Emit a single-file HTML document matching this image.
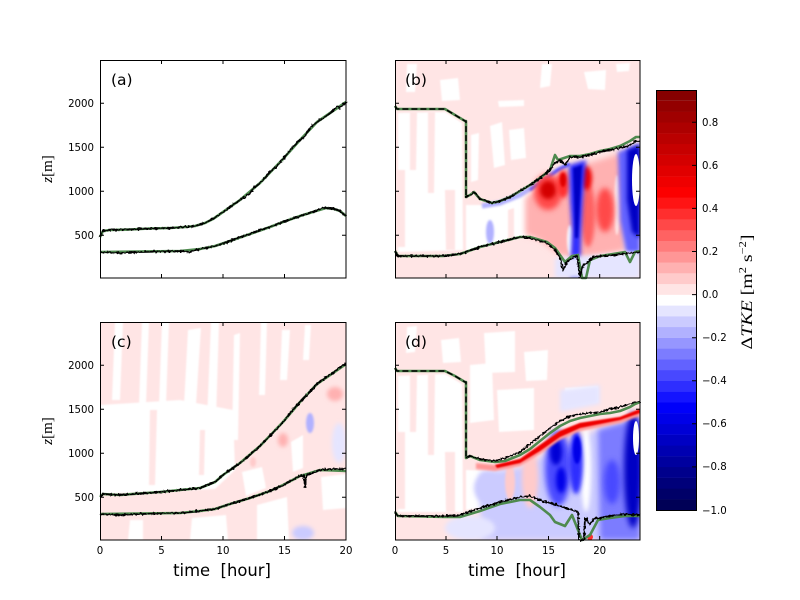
<!DOCTYPE html>
<html><head><meta charset="utf-8"><style>html,body{margin:0;padding:0;background:#fff}svg{display:block}</style></head><body>
<svg width="800" height="600" xmlns="http://www.w3.org/2000/svg" font-family="'DejaVu Sans','Liberation Sans',sans-serif">
<defs>
<clipPath id="cA"><rect x="100" y="60" width="246" height="218"/></clipPath>
<clipPath id="cB"><rect x="395" y="60" width="245" height="218"/></clipPath>
<clipPath id="cC"><rect x="100" y="322" width="246" height="218"/></clipPath>
<clipPath id="cD"><rect x="395" y="322" width="245" height="218"/></clipPath>
<filter id="b05" x="-20%" y="-20%" width="140%" height="140%"><feGaussianBlur stdDeviation="0.7"/></filter>
<filter id="b1" x="-50%" y="-50%" width="200%" height="200%"><feGaussianBlur stdDeviation="1"/></filter>
<filter id="b2" x="-50%" y="-50%" width="200%" height="200%"><feGaussianBlur stdDeviation="2"/></filter>
<filter id="b3" x="-50%" y="-50%" width="200%" height="200%"><feGaussianBlur stdDeviation="3"/></filter>
<filter id="jit" x="-5%" y="-10%" width="110%" height="120%"><feTurbulence type="fractalNoise" baseFrequency="0.45" numOctaves="1" seed="7" result="n"/><feDisplacementMap in="SourceGraphic" in2="n" scale="4" xChannelSelector="R" yChannelSelector="G"/></filter>
</defs>
<rect width="800" height="600" fill="#fff"/>

<!-- ===== Panel B field ===== -->
<g clip-path="url(#cB)">
<rect x="395" y="60" width="245" height="218" fill="#ffe5e5"/>
<g fill="#fff" filter="url(#b05)">
<path d="M398,113 L445,112 L462,123 L463,250 L398,252 Z"/>
<path d="M440,80 L458,78 L460,100 L442,101 Z"/>
<path d="M490,126 L502,122 L505,165 L494,168 Z"/>
<path d="M498,101 L524,100 L524,106 L499,107 Z"/>
<path d="M509,130 L524,128 L526,158 L511,160 Z"/>
<path d="M584,72 L606,70 L605,90 L588,89 Z"/>
<path d="M616,64 L630,63 L629,71 L617,72 Z"/>
<path d="M407,64 L417,64 L415,92 L406,92 Z"/>
<path d="M542,64 L552,64 L550,86 L540,88 Z"/>
<path d="M466,205 L500,205 L535,188 L536,238 L520,238 L500,243 L480,248 L466,252 Z"/>
<path d="M471,135 L479,133 L478,180 L471,182 Z"/>
</g>
<g fill="#ffe5e5" filter="url(#b05)">
<path d="M410,112 L417,112 L416,170 L410,170 Z"/>
<path d="M428,112 L435,112 L434,193 L428,193 Z"/>
<path d="M445,190 L455,190 L455,250 L446,250 Z"/>
<path d="M396,170 L405,170 L405,247 L396,247 Z"/>
<path d="M508,210 L514,208 L514,242 L508,244 Z"/>
</g>
<path d="M482,206 L500,203 L520,195 L540,183 L555,172 L568,165" stroke="#b1b1ff" stroke-width="5" fill="none" filter="url(#b1)"/>
<path d="M530,190 L545,180 L558,170 L570,164" stroke="#4848ff" stroke-width="3" fill="none" filter="url(#b1)"/>
<path d="M525,198 L545,182 L565,170 L600,160 L625,152 L625,250 L600,255 L580,258 L560,255 L540,240 L525,235 Z" fill="#ffb1b1" filter="url(#b3)"/>
<ellipse cx="490" cy="232" rx="4" ry="12" fill="#b1b1ff" filter="url(#b1)"/>
<ellipse cx="570" cy="240" rx="3" ry="15" fill="#fff" filter="url(#b1)"/>
<ellipse cx="617" cy="205" rx="3" ry="30" fill="#ffe5e5" filter="url(#b1)"/>
<ellipse cx="548" cy="192" rx="14" ry="18" fill="#ff4848" filter="url(#b3)"/>
<ellipse cx="548" cy="190" rx="8" ry="9" fill="#d40000" filter="url(#b2)"/>
<ellipse cx="563" cy="184" rx="6" ry="14" fill="#ff2e2e" filter="url(#b2)"/>
<ellipse cx="563" cy="180" rx="3" ry="7" fill="#e10000" filter="url(#b1)"/>
<ellipse cx="588" cy="215" rx="7" ry="32" fill="#ff6262" filter="url(#b2)"/>
<ellipse cx="586" cy="178" rx="6" ry="12" fill="#ef0000" filter="url(#b2)"/>
<ellipse cx="605" cy="210" rx="9" ry="22" fill="#ff4848" filter="url(#b3)"/>
<path d="M569,165 L586,160 L583,200 L581,240 L580,278 L570,278 L572,230 L570,200 Z" fill="#2e2eff" filter="url(#b2)"/>
<path d="M573,168 L582,165 L580,200 L578,238 L575,238 L574,200 Z" fill="#0000c4" filter="url(#b1)"/>
<path d="M618,152 L640,143 L640,255 L626,252 L620,220 Z" fill="#6262ff" filter="url(#b2)"/>
<path d="M627,150 L640,145 L640,238 L632,232 L627,200 Z" fill="#0000c4" filter="url(#b2)"/>
<ellipse cx="636" cy="180" rx="4" ry="26" fill="#fff"/>
<path d="M555,258 L640,252 L640,278 L555,278 Z" fill="#e5e5ff" filter="url(#b2)"/>
</g>

<!-- ===== Panel D field ===== -->
<g clip-path="url(#cD)">
<rect x="395" y="322" width="245" height="218" fill="#ffe5e5"/>
<g fill="#fff" filter="url(#b05)">
<path d="M398,376 L445,374 L462,384 L463,512 L398,512 Z"/>
<path d="M470,365 L492,363 L494,420 L470,423 Z"/>
<path d="M484,333 L515,331 L515,372 L486,373 Z"/>
<path d="M524,352 L548,350 L547,380 L526,381 Z"/>
<path d="M497,390 L534,388 L534,430 L499,432 Z"/>
<path d="M441,340 L459,338 L461,362 L443,363 Z"/>
<path d="M407,327 L417,326 L415,352 L406,353 Z"/>
<path d="M466,470 L515,472 L530,498 L466,510 Z"/>
<path d="M565,388 L598,386 L598,402 L565,408 Z"/>
</g>
<g fill="#ffe5e5" filter="url(#b05)">
<path d="M410,374 L417,374 L416,432 L410,432 Z"/>
<path d="M428,374 L435,374 L434,455 L428,455 Z"/>
<path d="M445,452 L455,452 L455,512 L446,512 Z"/>
<path d="M396,432 L405,432 L405,509 L396,509 Z"/>
</g>
<path d="M560,390 L600,385 L600,404 L560,412 Z" fill="#e5e5ff" filter="url(#b2)"/>
<path d="M480,472 L520,468 L545,455 L600,428 L640,418 L640,540 L480,540 Z" fill="#cbcbff" filter="url(#b3)"/>
<ellipse cx="488" cy="488" rx="14" ry="16" fill="#cbcbff" filter="url(#b2)"/>
<ellipse cx="470" cy="528" rx="25" ry="12" fill="#e5e5ff" filter="url(#b2)"/>
<ellipse cx="530" cy="478" rx="8" ry="30" fill="#ffcbcb" filter="url(#b2)"/>
<ellipse cx="510" cy="482" rx="5" ry="18" fill="#ffcbcb" filter="url(#b1)"/>
<ellipse cx="586" cy="470" rx="5" ry="42" fill="#fff" filter="url(#b2)"/>
<ellipse cx="558" cy="468" rx="13" ry="38" fill="#4848ff" filter="url(#b3)"/>
<ellipse cx="556" cy="452" rx="6" ry="13" fill="#0000d6" filter="url(#b2)"/>
<ellipse cx="561" cy="480" rx="5" ry="13" fill="#0000e8" filter="url(#b2)"/>
<ellipse cx="576" cy="462" rx="7" ry="32" fill="#2e2eff" filter="url(#b2)"/>
<ellipse cx="577" cy="450" rx="4" ry="14" fill="#0000e8" filter="url(#b1)"/>
<path d="M598,430 L640,418 L640,540 L600,540 Z" fill="#7c7cff" filter="url(#b3)"/>
<ellipse cx="612" cy="482" rx="8" ry="22" fill="#4848ff" filter="url(#b3)"/>
<ellipse cx="633" cy="470" rx="9" ry="58" fill="#0000c4" filter="url(#b3)"/>
<ellipse cx="636" cy="438" rx="3" ry="17" fill="#fff"/>
<ellipse cx="590" cy="537" rx="3" ry="3" fill="#ff2e2e"/>
<path d="M476,463 L495,465 L520,459 L540,445 L560,431 L580,423 L600,420 L620,417 L635,411 L640,409 L640,416 L620,423 L600,427 L580,431 L560,440 L540,454 L520,466 L495,471 L476,469 Z" fill="#ff9696" filter="url(#b1)"/>
<path d="M495,465 L520,459 L540,445 L560,431 L580,423 L600,420 L620,417 L635,411 L640,409 L640,413 L620,420 L600,424 L580,428 L560,437 L540,451 L520,463 L497,468 Z" fill="#ef0000" filter="url(#b05)"/>
</g>

<!-- ===== Panel C field ===== -->
<g clip-path="url(#cC)">
<rect x="100" y="322" width="246" height="218" fill="#ffe5e5"/>
<g fill="#fff" filter="url(#b05)">
<path d="M100,405 L180,400 L233,410 L235,470 L215,489 L100,494 Z"/>
<path d="M142,322 L149,322 L146,405 L139,405 Z"/>
<path d="M162,322 L169,322 L166,405 L159,405 Z"/>
<path d="M188,330 L201,328 L196,405 L184,405 Z"/>
<path d="M211,322 L219,322 L216,420 L207,420 Z"/>
<path d="M234,335 L240,333 L238,440 L232,440 Z"/>
<path d="M261,322 L267,322 L265,395 L259,395 Z"/>
<path d="M115,322 L123,322 L120,400 L112,400 Z"/>
<path d="M282,330 L290,330 L287,380 L280,380 Z"/>
<path d="M305,325 L311,325 L309,360 L303,360 Z"/>
<path d="M242,472 L262,467 L266,488 L246,496 Z"/>
<path d="M291,442 L303,435 L303,468 L293,472 Z"/>
<path d="M130,520 L143,520 L143,540 L128,540 Z"/>
<path d="M192,518 L226,515 L228,540 L190,540 Z"/>
<path d="M257,505 L287,497 L289,540 L257,540 Z"/>
<path d="M321,477 L346,474 L346,508 L323,510 Z"/>
</g>
<g fill="#ffe5e5" filter="url(#b05)">
<path d="M150,410 L157,410 L155,485 L149,485 Z"/>
<path d="M200,430 L205,430 L204,475 L199,475 Z"/>
</g>
<ellipse cx="335" cy="394" rx="8" ry="7" fill="#ffb1b1" filter="url(#b2)"/>
<ellipse cx="283" cy="440" rx="5" ry="7" fill="#ffb1b1" filter="url(#b2)"/>
<ellipse cx="253" cy="462" rx="3" ry="5" fill="#ffcbcb" filter="url(#b1)"/>
<ellipse cx="310" cy="423" rx="4" ry="10" fill="#b1b1ff" filter="url(#b1)"/>
<ellipse cx="303" cy="533" rx="11" ry="7" fill="#cbcbff" filter="url(#b2)"/>
<ellipse cx="339" cy="443" rx="7" ry="20" fill="#e5e5ff" filter="url(#b2)"/>
</g>

<!-- ===== Lines ===== -->
<g fill="none" stroke-linejoin="round">
<!-- A -->
<polyline stroke="#4f8a4f" stroke-width="2.6" points="100,237 103,231 110,230 130,229.5 150,228.5 170,228 185,227 195,226 205,223 213,219 223,212 240,200 260,183 283,159 300,140 317,122 333,111 346,102"/>
<polyline stroke="#000" stroke-width="1.8" filter="url(#jit)" points="100,237 103,231 110,230 130,229.5 150,228.5 170,228 185,227 195,226 205,223 213,219 223,212 240,200 245,197 250,193 255,187 260,183 270,172 275,168 283,159 290,150 300,140 305,136 310,128 317,122 325,117 333,111 337,106 340,108 346,102"/>
<polyline stroke="#4f8a4f" stroke-width="2.6" points="100,252 180,251 200,249 215,246 230,241 250,234 270,227 283,222 300,216 316,211 326,208 334,209 340,211 346,216"/>
<polyline stroke="#000" stroke-width="1.8" filter="url(#jit)" points="100,252 120,253 140,252 180,251 190,252 200,249 215,246 225,243 230,241 240,237 250,234 260,230 270,227 283,222 300,216 316,211 322,208 326,208 334,209 340,211 346,216"/>
<!-- C -->
<polyline stroke="#4f8a4f" stroke-width="2.6" points="100,497 103,494 120,495 160,492 200,488 215,482 223,475 240,463 260,446 283,422 300,402 317,384 333,373 346,364"/>
<polyline stroke="#000" stroke-width="1.8" filter="url(#jit)" points="100,497 103,494 120,495 160,492 200,488 215,482 223,475 240,463 250,455 260,446 270,436 283,422 290,413 300,402 310,392 317,384 325,378 333,373 340,367 346,364"/>
<polyline stroke="#4f8a4f" stroke-width="2.6" points="100,514 180,513 200,511 215,509 230,504 250,498 270,491 283,485 300,476 304,475 320,470 346,471"/>
<polyline stroke="#000" stroke-width="1.8" filter="url(#jit)" points="100,514 120,515 140,514 180,513 200,511 215,509 230,504 250,498 270,491 283,485 300,476 304,475 305,487 307,475 320,470 330,469 346,469"/>
<!-- B -->
<polyline stroke="#4f8a4f" stroke-width="2.6" points="395,106 397,109 445,109 455,115 465,121 466,121 466,197 470,195 474,192 480,199 492,203 500,201 510,197 520,191 530,185 540,178 550,170 555,155 558,160 570,156 580,156 590,154 600,151 610,149 620,146 630,141 636,137 640,137"/>
<polyline stroke="#000" stroke-width="1.5" stroke-dasharray="6,3" points="395,106 397,109 445,109 455,115 465,121 466,121 466,197"/>
<polyline stroke="#000" stroke-width="1.8" filter="url(#jit)" points="466,197 470,195 474,192 480,199 492,203 500,201 510,197 520,191 530,185 540,178 550,170 555,163 560,160 565,165 570,157 580,157 590,155 600,152 610,150 620,148 630,145 636,141 640,141"/>
<polyline stroke="#4f8a4f" stroke-width="2.6" points="395,251 398,256 443,256 460,254 480,247 500,242 520,237 530,237 547,242 555,248 560,255 565,262 572,256 578,255 582,278 586,278 590,260 600,256 613,254 625,252 630,262 635,252 640,251"/>
<polyline stroke="#000" stroke-width="1.8" filter="url(#jit)" points="395,251 398,256 443,256 460,254 480,247 500,242 520,237 530,238 547,243 555,250 560,258 563,270 567,262 572,258 577,256 580,277 583,265 587,263 593,257 613,255 640,252"/>
<!-- D -->
<polyline stroke="#4f8a4f" stroke-width="2.6" points="395,368 397,371 445,371 455,376 465,382 466,382 466,458 470,456 480,460 495,462 505,461 520,455 530,449 540,441 550,433 560,426 570,421 580,418 590,416 600,414 610,413 620,411 630,407 635,404 640,402"/>
<polyline stroke="#000" stroke-width="1.5" stroke-dasharray="6,3" points="395,368 397,371 445,371 455,376 465,382 466,382 466,458"/>
<polyline stroke="#000" stroke-width="1.6" filter="url(#jit)" points="466,458 470,456 480,459 495,461 505,458 520,452 530,444 540,436 550,428 560,421 570,416 580,414 590,413 600,412 610,409 620,407 630,404 635,402 640,402"/>
<polyline stroke="#4f8a4f" stroke-width="2.6" points="395,512 398,516 445,517 460,517 480,511 500,504 520,500 530,500 540,507 550,515 555,522 565,526 572,515 578,530 582,540 590,535 598,520 610,518 625,516 640,516"/>
<polyline stroke="#000" stroke-width="1.8" filter="url(#jit)" points="395,512 398,516 445,516 460,515 480,508 500,502 520,497 530,496 540,500 560,506 578,512 579,540 584,540 585,518 590,524 595,518 600,518 610,516 625,514 640,515"/>
</g>

<!-- ===== Frames & ticks ===== -->
<g fill="none" stroke="#000" stroke-width="1">
<rect x="100.5" y="60.5" width="245.5" height="217.5"/>
<rect x="395.5" y="60.5" width="244.5" height="217.5"/>
<rect x="100.5" y="322.5" width="245.5" height="217.5"/>
<rect x="395.5" y="322.5" width="244.5" height="217.5"/>
<path d="M161.5,278v-4M223,278v-4M284.5,278v-4M161.5,60v4M223,60v4M284.5,60v4M100,103.3h4M100,147.3h4M100,191.3h4M100,235.3h4M346,103.3h-4M346,147.3h-4M346,191.3h-4M346,235.3h-4"/>
<path d="M161.5,540v-4M223,540v-4M284.5,540v-4M161.5,322v4M223,322v4M284.5,322v4M100,365.3h4M100,409.3h4M100,453.3h4M100,497.3h4M346,365.3h-4M346,409.3h-4M346,453.3h-4M346,497.3h-4"/>
<path d="M446,278v-4M497,278v-4M548.5,278v-4M599.7,278v-4M446,60v4M497,60v4M548.5,60v4M599.7,60v4M395,103.3h4M395,147.3h4M395,191.3h4M395,235.3h4M640,103.3h-4M640,147.3h-4M640,191.3h-4M640,235.3h-4"/>
<path d="M446,540v-4M497,540v-4M548.5,540v-4M599.7,540v-4M446,322v4M497,322v4M548.5,322v4M599.7,322v4M395,365.3h4M395,409.3h4M395,453.3h4M395,497.3h4M640,365.3h-4M640,409.3h-4M640,453.3h-4M640,497.3h-4"/>
</g>

<!-- ===== Text ===== -->
<g font-size="10.2" fill="#000" text-anchor="end">
<text x="94" y="107">2000</text><text x="94" y="151">1500</text><text x="94" y="195">1000</text><text x="94" y="239">500</text>
<text x="94" y="369">2000</text><text x="94" y="413">1500</text><text x="94" y="457">1000</text><text x="94" y="501">500</text>
</g>
<g font-size="10.2" fill="#000" text-anchor="middle">
<text x="100" y="554">0</text><text x="161.5" y="554">5</text><text x="223" y="554">10</text><text x="284.5" y="554">15</text><text x="346" y="554">20</text>
<text x="395" y="554">0</text><text x="446" y="554">5</text><text x="497" y="554">10</text><text x="548.5" y="554">15</text><text x="599.7" y="554">20</text>
</g>
<g font-size="16.4" fill="#000" text-anchor="middle" style="white-space:pre">
<text x="222" y="576" xml:space="preserve">time  [hour]</text>
<text x="517" y="576" xml:space="preserve">time  [hour]</text>
</g>
<g font-size="15.5" fill="#000">
<text x="111" y="85">(a)</text><text x="405" y="85">(b)</text>
<text x="111" y="347">(c)</text><text x="405" y="347">(d)</text>
</g>
<g font-family="'Liberation Serif','DejaVu Serif',serif" font-size="15" fill="#000" text-anchor="middle">
<text transform="translate(52,169) rotate(-90)"><tspan font-style="italic">z</tspan>[m]</text>
<text transform="translate(52,431) rotate(-90)"><tspan font-style="italic">z</tspan>[m]</text>
</g>

<!-- ===== Colorbar ===== -->
<g>
<rect x="656" y="499.23" width="40" height="11" fill="#000056"/>
<rect x="656" y="488.46" width="40" height="11" fill="#000068"/>
<rect x="656" y="477.69" width="40" height="11" fill="#00007a"/>
<rect x="656" y="466.92" width="40" height="11" fill="#00008c"/>
<rect x="656" y="456.15" width="40" height="11" fill="#00009f"/>
<rect x="656" y="445.38" width="40" height="11" fill="#0000b1"/>
<rect x="656" y="434.62" width="40" height="11" fill="#0000c3"/>
<rect x="656" y="423.85" width="40" height="11" fill="#0000d6"/>
<rect x="656" y="413.08" width="40" height="11" fill="#0000e8"/>
<rect x="656" y="402.31" width="40" height="11" fill="#0000fa"/>
<rect x="656" y="391.54" width="40" height="11" fill="#1414ff"/>
<rect x="656" y="380.77" width="40" height="11" fill="#2e2eff"/>
<rect x="656" y="370.00" width="40" height="11" fill="#4848ff"/>
<rect x="656" y="359.23" width="40" height="11" fill="#6262ff"/>
<rect x="656" y="348.46" width="40" height="11" fill="#7c7cff"/>
<rect x="656" y="337.69" width="40" height="11" fill="#9696ff"/>
<rect x="656" y="326.92" width="40" height="11" fill="#b1b1ff"/>
<rect x="656" y="316.15" width="40" height="11" fill="#cbcbff"/>
<rect x="656" y="305.38" width="40" height="11" fill="#e5e5ff"/>
<rect x="656" y="294.62" width="40" height="11" fill="#ffffff"/>
<rect x="656" y="283.85" width="40" height="11" fill="#ffe5e5"/>
<rect x="656" y="273.08" width="40" height="11" fill="#ffcbcb"/>
<rect x="656" y="262.31" width="40" height="11" fill="#ffb1b1"/>
<rect x="656" y="251.54" width="40" height="11" fill="#ff9696"/>
<rect x="656" y="240.77" width="40" height="11" fill="#ff7c7c"/>
<rect x="656" y="230.00" width="40" height="11" fill="#ff6262"/>
<rect x="656" y="219.23" width="40" height="11" fill="#ff4848"/>
<rect x="656" y="208.46" width="40" height="11" fill="#ff2e2e"/>
<rect x="656" y="197.69" width="40" height="11" fill="#ff1414"/>
<rect x="656" y="186.92" width="40" height="11" fill="#fc0000"/>
<rect x="656" y="176.15" width="40" height="11" fill="#ef0000"/>
<rect x="656" y="165.38" width="40" height="11" fill="#e10000"/>
<rect x="656" y="154.62" width="40" height="11" fill="#d40000"/>
<rect x="656" y="143.85" width="40" height="11" fill="#c70000"/>
<rect x="656" y="133.08" width="40" height="11" fill="#ba0000"/>
<rect x="656" y="122.31" width="40" height="11" fill="#ad0000"/>
<rect x="656" y="111.54" width="40" height="11" fill="#a00000"/>
<rect x="656" y="100.77" width="40" height="11" fill="#930000"/>
<rect x="656" y="90.00" width="40" height="10.8" fill="#860000"/>
<rect x="656.5" y="90.5" width="40" height="420" fill="none" stroke="#000" stroke-width="1"/>
<path d="M696,122.3h-4M696,165.4h-4M696,208.4h-4M696,251.5h-4M696,294.6h-4M696,337.7h-4M696,380.8h-4M696,423.8h-4M696,466.9h-4" stroke="#000" stroke-width="1"/>
</g>
<g font-size="10.2" fill="#000">
<text x="702" y="126">0.8</text>
<text x="702" y="169">0.6</text>
<text x="702" y="212">0.4</text>
<text x="702" y="255">0.2</text>
<text x="702" y="298">0.0</text>
<text x="702" y="341">−0.2</text>
<text x="702" y="384">−0.4</text>
<text x="702" y="427">−0.6</text>
<text x="702" y="470">−0.8</text>
<text x="702" y="514">−1.0</text>
</g>
<text transform="translate(752,292) rotate(-90)" text-anchor="middle" font-family="'Liberation Serif','DejaVu Serif',serif" font-size="16" fill="#000" textLength="115" lengthAdjust="spacingAndGlyphs">Δ<tspan font-style="italic">TKE</tspan> [m<tspan font-size="10" dy="-6">2</tspan><tspan dy="6"> s</tspan><tspan font-size="10" dy="-6">−2</tspan><tspan dy="6">]</tspan></text>
</svg>
</body></html>
